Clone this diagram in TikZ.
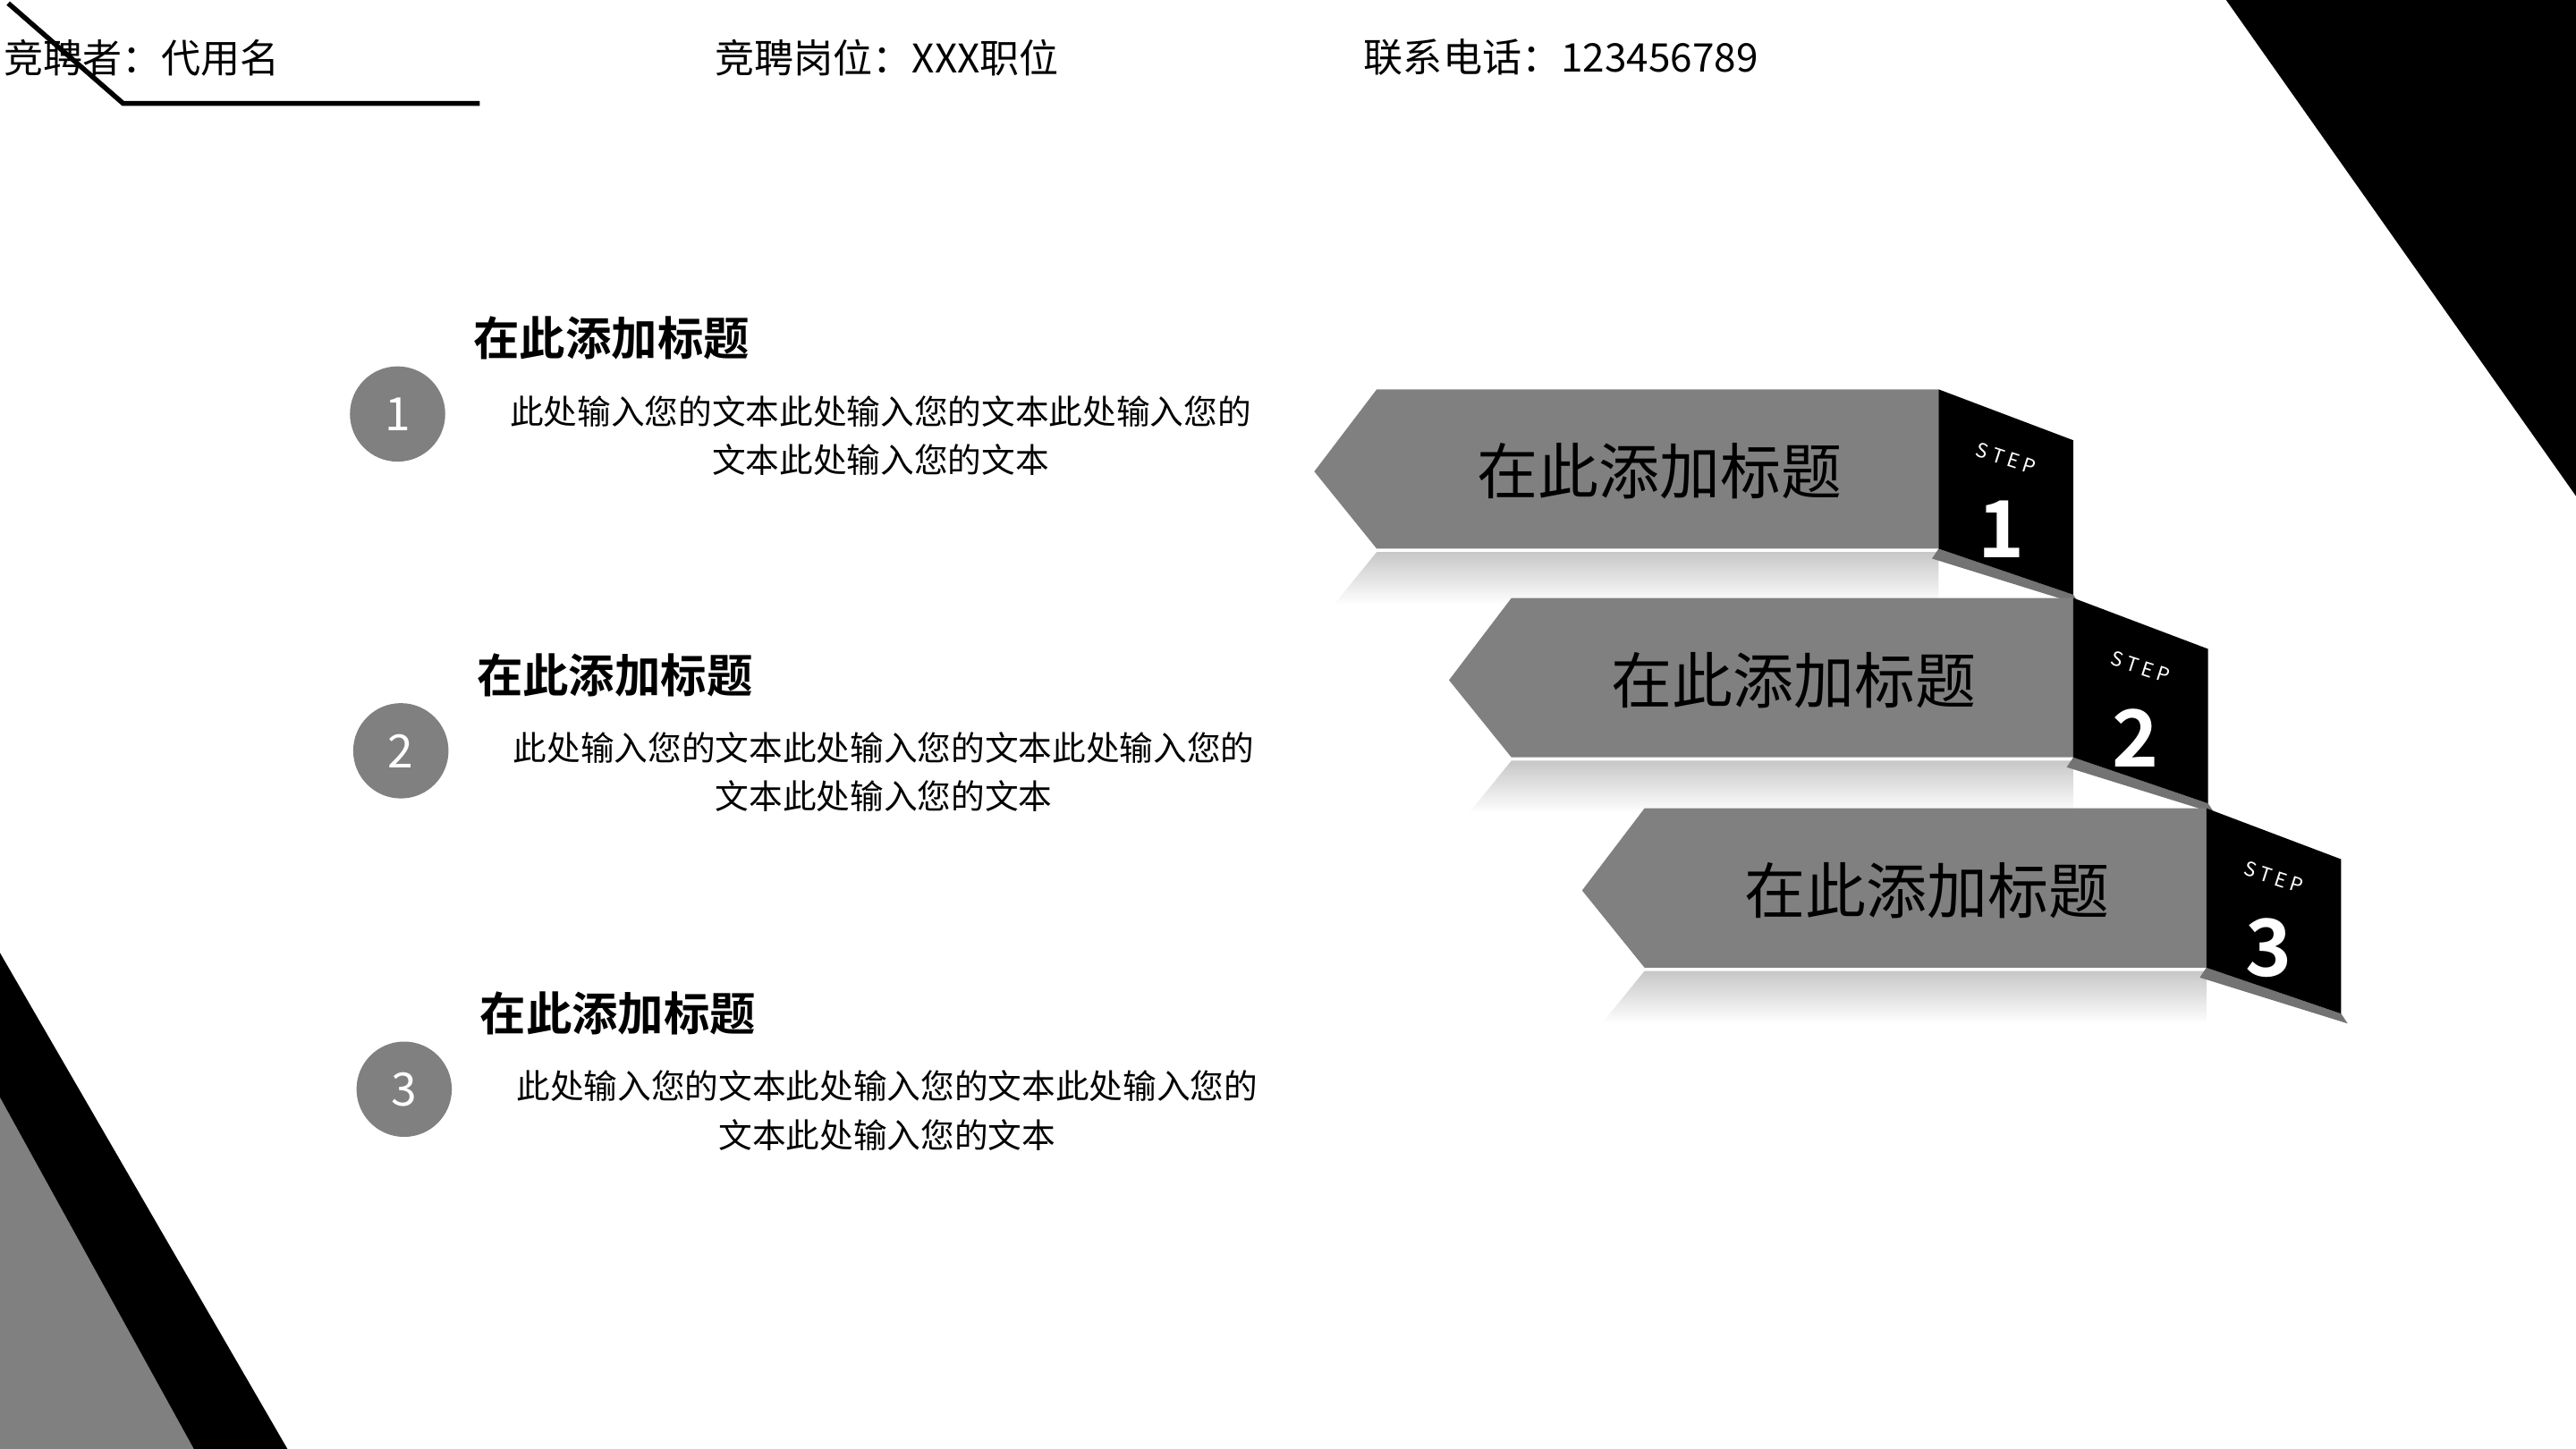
\documentclass[tikz,border=0pt]{standalone}
\usepackage{fontspec}
\newfontfamily\cjk{Noto Sans CJK SC}
\newfontfamily\cjkb{Noto Sans CJK SC Bold}
\begin{document}
\begin{tikzpicture}[x=1pt,y=-1pt,
  ttl/.style={font=\cjk\fontsize{37}{40}\selectfont,text=black},
  head/.style={font=\cjkb\fontsize{28}{32}\selectfont,anchor=west,inner sep=0},
  body/.style={font=\cjk\fontsize{20.5}{29.5}\selectfont,align=center,inner sep=0},
  hdr/.style={font=\cjk\fontsize{24}{28}\selectfont,anchor=west,inner sep=0},
  num/.style={circle,fill=black!50,minimum size=58pt,inner sep=0,text=white,font=\cjk\fontsize{28}{30}\selectfont},
  stepw/.style={text=white,font=\cjk\fontsize{12}{12}\selectfont,rotate=-18,inner sep=0},
  stepn/.style={text=white,font=\cjkb\fontsize{48}{48}\selectfont,inner sep=0}]
\useasboundingbox (0,0) rectangle (1568,882);
\fill[white] (0,0) rectangle (1568,882);
% corner shapes
\fill[black] (1355,0) -- (1568,0) -- (1568,302) -- cycle;
\fill[black] (0,580) -- (175,882) -- (0,882) -- cycle;
\fill[black!50] (0,668) -- (118,882) -- (0,882) -- cycle;
% header
\draw[line width=3pt] (5,2) -- (75,63) -- (292,63);
\node[hdr] (h1) at (2,35) {竞聘者：代用名};
\node[hdr] (h2) at (435,35) {竞聘岗位：XXX职位};
\node[hdr] (h3) at (830,35) {联系电话：123456789};
% steps
\foreach \i/\dx/\dy in {1/0/0,2/82/127,3/163/255}{
  \begin{scope}[shift={(\dx,\dy)}]
    \shade[top color=black!22,bottom color=white] (838,336) -- (1180,336) -- (1180,368) -- (812,368) -- cycle;
    \fill[black!55] (1180,334) -- (1262,362) -- (1266,368) -- (1176,340) -- cycle;
    \fill[black!50] (800,287) -- (838,237) -- (1180,237) -- (1180,334) -- (838,334) -- cycle;
    \fill[black] (1180,237) -- (1262,268) -- (1262,362) -- (1180,334) -- cycle;
    \node[ttl] (t\i) at (1010,287) {在此添加标题};
    \node[stepw] (s\i) at (1221,279) {S T E P};
    \node[stepn] (n\i) at (1218,322) {\i};
  \end{scope}}
% left list
\foreach \i/\x/\y in {1/242/252,2/244/457,3/246/663}{
  \node[num] (c\i) at (\x,\y) {\i};
  \node[head] (hd\i) at (\x+46,\y-46) {在此添加标题};
  \node[body] (b\i) at (\x+294,\y+13) {此处输入您的文本此处输入您的文本此处输入您的\\文本此处输入您的文本};
}
\end{tikzpicture}
\end{document}
